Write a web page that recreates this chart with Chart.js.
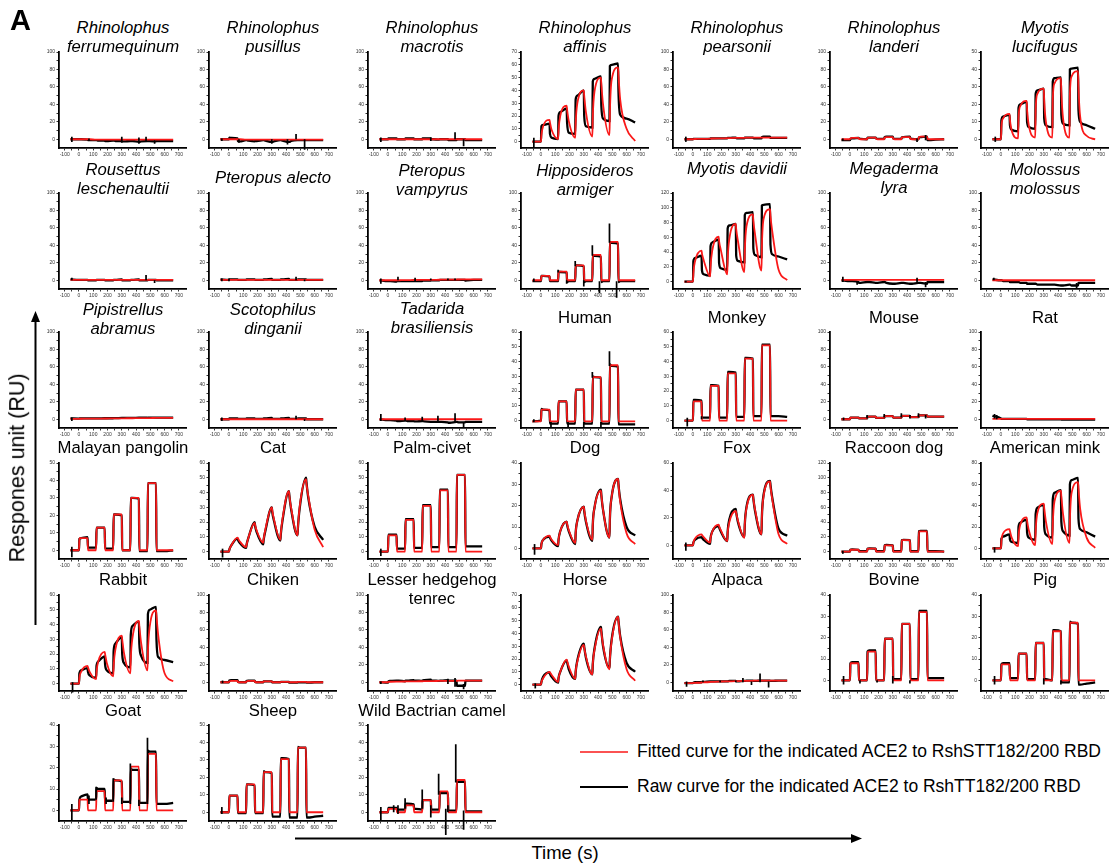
<!DOCTYPE html>
<html><head><meta charset="utf-8">
<script src="https://cdn.jsdelivr.net/npm/chart.js@4.4.1/dist/chart.umd.min.js"></script>
<style>
html,body{margin:0;padding:0;background:#fff;}
body{width:1111px;height:866px;overflow:hidden;position:relative;font-family:"Liberation Sans",Arial,sans-serif;color:#000;}
canvas.cv{position:absolute;}
.tx{position:absolute;white-space:nowrap;}
</style></head><body>
<svg id="ov" width="1111" height="866" style="position:absolute;left:0;top:0;pointer-events:none"></svg>
<script>
// ---------- shared time grid (s) ----------
const T = [-60, 0,3,15,60,63,75, 120,123,135,180,183,195, 240,243,255,300,303,315, 360,363,375,420,423,435, 480,483,495,540,543,555, 600,660];
const xTickValues = [-100,-50,0,50,100,150,200,250,300,350,400,450,500,550,600,650,700];

// ---------- panel titles ----------
const panelNames = [
 'Rhinolophus\nferrumequinum','Rhinolophus\npusillus','Rhinolophus\nmacrotis','Rhinolophus\naffinis','Rhinolophus\npearsonii','Rhinolophus\nlanderi','Myotis\nlucifugus',
 'Rousettus\nleschenaultii','Pteropus alecto','Pteropus\nvampyrus','Hipposideros\narmiger','Myotis davidii','Megaderma\nlyra','Molossus\nmolossus',
 'Pipistrellus\nabramus','Scotophilus\ndinganii','Tadarida\nbrasiliensis','Human','Monkey','Mouse','Rat',
 'Malayan pangolin','Cat','Palm-civet','Dog','Fox','Raccoon dog','American mink',
 'Rabbit','Chiken','Lesser hedgehog\ntenrec','Horse','Alpaca','Bovine','Pig',
 'Goat','Sheep','Wild Bactrian camel'];
const yMax  = [100,100,100,70,100,100,50, 100,100,100,100,120,100,100, 100,100,100,60,60,100,100, 50,60,60,40,60,120,80, 60,100,100,70,100,40,40, 40,50,50];
const yStep = [20,20,20,10,20,20,10, 20,20,20,20,20,20,20, 20,20,20,10,10,20,20, 10,10,10,10,20,20,20, 10,20,20,10,20,10,10, 10,10,10];
const yMin  = [-10,-10,-10,-5,-10,-10,-5, -10,-10,-10,-10,-10,-10,-10, -10,-10,-10,-5,-5,-10,-10, -5,-5,-5,-5,-10,-10,-10, -5,-10,-10,-5,-10,-5,-5, -5,-5,-5];

// ---------- series (fitted = red, raw = black), values at T ; spikes [t, y1, y2] ----------
const fit_Rfe = [0, 0,0,0,0,0,0, -0.5,-0.5,-0.5,-0.5,-0.5,-0.5, -0.5,-0.5,-0.5,-0.5,-0.5,-0.5, -0.5,-0.5,-0.5,-0.5,-0.5,-0.5, -0.5,-0.5,-0.5,-0.5,-0.5,-0.5, -0.5,-0.5];
const raw_Rfe = [0, 0,0,0,-0.5,-1,-1, -1,-1,-1.5,-1.5,-2,-2, -1.5,-1.5,-2,-2,-2.5,-2.5, -2,-2,-2,-3,-3,-2.5, -2,-2,-2,-2.5,-2,-2, -2,-2];
const spk_Rfe = [[-50,-3,3],[70,-2,1],[300,-4,3],[420,-5,2],[470,-2,3],[530,-5,-1]];

const fit_Rpu = [0, 0,0,0,0,0,0, -0.5,-0.5,-0.5,-0.5,-0.5,-0.5, -0.5,-0.5,-0.5,-0.5,-0.5,-0.5, -0.5,-0.5,-0.5,-0.5,-0.5,-0.5, -0.5,-0.5,-0.5,-0.5,-0.5,-0.5, -0.5,-0.5];
const raw_Rpu = [0, 0,2,1.5,1,-2,-2.5, -1,-1,-1.5,-2.5,-2,-2, -1,-1,-1.5,-3,-3,-2.5, -1,-1,-1.5,-3,-3,-2, -1,-1,-1,-1,-1,-1, -1,-1];
const spk_Rpu = [[-50,-2,1],[70,-4,0],[300,-5,0],[410,-6,0],[470,0,6],[530,-12,0]];

const fit_Rma = [0, 0,0,0,0,0,0, 0,0,0,0,0,0, 0,0,0,0,0,0, 0,0,0,0,0,0, 0,0,0,0,0,0, 0,0];
const raw_Rma = [0, 0,1,1,1,0,0, 0,1,1,1,0,0, 0,1,1,1,0,0, -0.5,0,0,0,-1,-1, -1,0,0,0,-1,-1, -1,-1];
const spk_Rma = [[-50,-3,2],[300,-2,2],[470,0,8],[530,-8,0]];

const fit_Raf = [0, 0,5,12,17,15,9, 2,9,20,28,25,16, 3,14,30,40,36,23, 4,19,39,50,45,29, 5,23,48,58,52,33, 10,0.5];
const raw_Raf = [0, 0,12,13,14,6,3, 2,20,23,26,15,7, 6,33,36,40,20,12, 11,47,49,51,28,18, 16,59,60,61,40,21, 18,15];
const spk_Raf = [[-50,-5,3]];

const fit_Rpe = [0, 0,0.2,0.3,0.5,0.5,0.5, 0.7,0.8,0.9,1,1,1, 1.2,1.3,1.4,1.5,1.5,1.5, 1.6,1.7,1.8,2,2,2, 2,2,2,2,2,2, 2,2];
const raw_Rpe = [0, 0,0.5,0.5,0.5,0.5,0.5, 0.5,1,1,1,1,1, 1,1.5,1.5,2,1.5,1, 1,2,2,2,1.5,1, 1,2.5,3,3,1.5,1.5, 1.5,1.5];
const spk_Rpe = [[-50,-3,3]];

const fit_Rla = [0, 0,1,1.5,1.5,0.5,0, 0,1.5,2,2,0.5,0, 0,2,2.5,2.5,0.5,0, 0,2,2.5,2.5,0.5,0, 0,2.5,3,3,0.5,0, 0,0];
const raw_Rla = [-1, -1,0.5,1,1.5,1,0.5, 0,2,2,2,1,0.5, 0.5,2.5,3,3,1,0.5, 0.5,2,2.5,3,1,0.5, 0,2,2.5,3,-1,-1, -0.5,0];
const spk_Rla = [[-50,-2,1],[470,-3,1],[530,-1,5]];

const fit_Mlu = [0, 0,7,12,14.5,11,5, 0.5,12,19,22,17,8, 1,17,26,29,22,10, 1,23,32,35,27,12, 1,26,36,39,30,13, 2,0];
const raw_Mlu = [0, 0,11,13,14,8,5.5, 4.5,18,20,21.5,10,7, 6,26,28,29,12,8, 7,33,35,35.5,14,9, 8,40,40.5,41,17,10, 8,6];
const spk_Mlu = [[-40,-1.5,1.5]];

const fit_Rle = [0.5, 0.5,0.5,0.5,0.5,0.5,0.5, 0.5,0.5,0.5,0.5,0.5,0.5, 0.5,0.5,0.5,0.5,0.5,0.5, 0.5,0.5,0.5,0.5,0.5,0.5, 0.5,0.5,0.5,0.5,0.5,0.5, 0.5,0.5];
const raw_Rle = [1, 0.5,0.5,0.5,0.5,0,0, 0,0.5,0.5,0.5,0,0, 0,0.5,0.5,1,0,0, 0,0.5,0.5,1,0,0, 0,0.5,0.5,0.5,0,0, 0,0];
const spk_Rle = [[-50,0,3],[470,0,6],[530,-3,0]];

const fit_Pal = [0.5, 0.5,0.5,0.5,0.5,0.5,0.5, 0.5,0.5,0.5,0.5,0.5,0.5, 0.5,0.5,0.5,0.5,0.5,0.5, 0.5,0.5,0.5,0.5,0.5,0.5, 0.5,0.5,0.5,0.5,0.5,0.5, 0.5,0.5];
const raw_Pal = [1, 0.5,1,1,1,0.5,0.5, 0.5,1,1,1,0.5,0.5, 0.5,1,1,1.5,0.5,0.5, 0.5,1,1,1.5,0.5,0.5, 0.5,1,1,1,0.5,0.5, 0.5,0.5];
const spk_Pal = [[-50,-1,2],[0,-1,2],[470,0,4],[530,-1,1]];

const fit_Pva = [0, 0,0,0,0,0,0, 0.2,0.2,0.2,0.3,0.3,0.3, 0.4,0.4,0.5,0.5,0.5,0.5, 0.6,0.6,0.7,0.7,0.8,0.8, 0.8,0.9,0.9,1,1,1, 1,1];
const raw_Pva = [0, -1,-1,-1,-1.5,-1,-1, -1,-1,-1,-1,-1,-1, -1,-0.5,-0.5,-0.5,0,0, 0,0.5,0.5,0.5,0.5,0.5, 0.5,0.5,0.5,0.5,-0.5,0, 0.5,0.5];
const spk_Pva = [[-50,-4,2],[70,0,4],[190,-1,3],[300,0,2],[420,0,2],[470,0,2]];

const fit_Har = [0, 0,5,5,5,0,0, 0,10,10,10,0,0, 0,17,17,17,0,0, 0,29,29,29,0,0, 0,44,44,44,0,0, 0,0];
const raw_Har = [-1, -1,5,5,4.5,-1,-1, -1,10,9.5,9,-2,-1, -1,17,17,16,-2,-1, -1,29,28,27,-2,-1, -1,44,43,42,-2,-1, -1,-1];
const spk_Har = [[-50,-2,2],[120,9,12],[180,-4,0],[240,16,22],[300,-7,0],[360,28,40],[410,-15,-1],[480,43,65],[530,-20,-1]];

const fit_Mda = [0, 0,12,28,42,38,29, 7,20,42,61,55,43, 10,30,58,78,71,55, 13,40,75,91,83,64, 15,48,85,98,89,69, 16,2];
const raw_Mda = [0, 0,28,32,35,15,10, 8,48,53,57,25,18, 16,72,76,78,35,28, 26,90,93,94,45,36, 33,103,104,105,50,37, 34,30];
const spk_Mda = [[-50,-1,1]];

const fit_Mly = [0.5, 0.5,0.5,0.5,0.5,0.5,0.5, 0.5,0.5,0.5,0.5,0.5,0.5, 0.5,0.5,0.5,0.5,0.5,0.5, 0.5,0.5,0.5,0.5,0.5,0.5, 0.5,0.5,0.5,0.5,0.5,0.5, 0.5,0.5];
const raw_Mly = [0, -1,-1,-1,-2,-3,-3, -2,-2,-2,-3,-3,-3, -2,-2,-3,-4,-4,-4, -3,-3,-3,-4,-4,-4, -3,-3,-3,-4,-2,-2, -2,-2];
const spk_Mly = [[-50,-2,4],[50,-5,-1],[470,-2,3],[530,-8,-2]];

const fit_Mmo = [0, 0,0,0,0,0,0, 0,0,0,0,0,0, 0,0,0,0,0,0, 0,0,0,0,0,0, 0,0,0,0,0,0, 0,0];
const raw_Mmo = [1, 0,0,-1,-1,-2,-2, -2,-2,-3,-3,-4,-4, -4,-4,-5,-5,-5,-5, -5,-5,-5,-6,-6,-6, -5,-5,-6,-6,-3,-3, -3,-3];
const spk_Mmo = [[-50,0,3],[530,-9,-3]];

const fit_Pab = [0.5, 0.5,0.6,0.6,0.7,0.7,0.7, 0.8,0.8,0.8,0.9,0.9,0.9, 1,1,1,1.1,1.1,1.1, 1.2,1.2,1.2,1.3,1.3,1.3, 1.4,1.4,1.4,1.5,1.5,1.5, 1.5,1.5];
const raw_Pab = [1, 0.8,1,1,1,1,1, 1,1,1,1.2,1.2,1.2, 1.2,1.3,1.3,1.5,1.5,1.5, 1.5,1.6,1.6,1.8,1.8,1.8, 1.8,2,2,2,2,2, 2,2];
const spk_Pab = [[-50,-2,2]];

const fit_Sdi = [0, 0,0,0,0,0,0, 0,0,0,0,0,0, 0,0,0,0,0,0, 0,0,0,0,0,0, 0,0,0,0,0,0, 0,0];
const raw_Sdi = [0, 0,1,1,1,0.5,0.5, 0.5,1,1,1,0.5,0.5, 0.5,1,1,1.5,0.5,0.5, 0.5,1,1,1.5,0.5,0.5, 0.5,1,1,1,0,0, 0,0];
const spk_Sdi = [[-50,-2,2],[470,0,4],[530,-2,0]];

const fit_Tbr = [0, 0,0,0,0,0,0, 0,0,0,0,0,0, 0,0,0,0,0,0, 0,0,0,0,0,0, 0,0,0,0,0,0, 0,0];
const raw_Tbr = [0, -1,-1,-1,-1.5,-2,-2, -1.5,-1.5,-2,-2,-2.5,-2.5, -2,-2,-2.5,-3,-3,-3, -3,-3,-3,-3.5,-4,-4, -3,-3,-3.5,-3.5,-3,-3, -3,-3];
const spk_Tbr = [[-50,-2,6],[120,-2,2],[240,-2,3],[350,-3,4],[470,-3,7],[530,-10,-3]];

const fit_Hum = [-0.5, -0.5,7.5,7.5,7.5,-0.5,-0.5, -0.5,13,13,13,-0.5,-0.5, -0.5,21,21,21,-0.5,-0.5, -0.5,29.5,29.5,29.5,-0.5,-0.5, -0.5,37.5,37.5,37.5,-0.5,-0.5, -0.5,-0.5];
const raw_Hum = [-0.5, 0,8,7.5,7,-2,-2, -2,13,13,13,-2,-2, -2,21,21,21,-2,-2, -2,30,29.5,29,-2,-2, -2,38,37,36.5,-2.5,-2.5, -2.5,-2.5];
const spk_Hum = [[-50,-1,1],[70,-5,-1],[190,-5,-1],[300,-5,-1],[360,29,33],[420,-5,-1],[480,37,47]];

const fit_Mon = [0, 0,13,13,13,0,0, 0,23.5,23.5,23.5,0,0, 0,32,32,32,0,0, 0,42,42,42,0,0, 0,51,51,51,0,0, 0,0];
const raw_Mon = [0, 0,14,14,13.5,2,2, 2,24,24,23.5,2,2, 2,33,33,32.5,2.5,2.5, 2.5,42.5,42.5,42,3,3, 3,51.5,51.5,51.5,3,3, 3,2.5];
const spk_Mon = [[-40,-4,2],[60,1,3]];

const fit_Mou = [0, 0,2,2,2,1,1, 1,3,3,3,1.5,1.5, 1.5,3.5,3.5,3.5,2,2, 2,4,4,4,2.5,2.5, 2.5,4.5,4.5,4.5,3,3, 3,3];
const raw_Mou = [0, 0,2,2,2,1,1, 1,3,3,3,1.5,1.5, 1.5,3.5,3.5,3.5,2,2, 2,4,4,4,2.5,2.5, 2.5,4.5,4.5,4.5,3,3, 3,3];
const spk_Mou = [[-45,-1,2],[120,1,5],[240,2,6],[360,2,7],[420,1,5],[480,2,7],[530,1,5]];

const fit_Rat = [0.5, 0.5,0.5,0.5,0.5,0.5,0.5, 0.5,0.5,0.5,0.5,0.5,0.5, 0.5,0.5,0.5,0.5,0.5,0.5, 0.5,0.5,0.5,0.5,0.5,0.5, 0.5,0.5,0.5,0.5,0.5,0.5, 0.5,0.5];
const raw_Rat = [4, 1,0.5,0.5,0.5,0.5,0.5, 0.5,0.5,0.5,0.5,0,0, 0,0,0,0,0,0, 0,0,0,0,-0.5,-0.5, -0.5,-0.5,-0.5,-0.5,-0.5,-0.5, -0.5,-0.5];
const spk_Rat = [[-45,1,6],[-30,0,5]];

const fit_Pan = [0, 0,7,7,7,0,0, 0,13,13,13,0,0, 0,20.5,20.5,20.5,0,0, 0,30,30,30,0,0, 0,38.5,38.5,38.5,0,0, 0,0];
const raw_Pan = [0, 0,6.5,7,7.5,1.5,1.5, 1.5,13,13,13,1,1, 1,20.5,20.5,20,0,0, 0,30,30,29.5,-0.5,-0.5, -0.5,38.5,38.5,38.5,-0.5,-0.5, -0.5,0];
const spk_Pan = [[-50,-4,2]];

const fit_Cat = [0, 0,1.5,4,9.5,9,7, 3,4.5,9,19.5,18,14, 6,8.5,15,30,28,22, 8,12,22,41,38,30, 11,16,30,49,46,38, 15,3];
const raw_Cat = [0, 0,1.5,4,9,8,6, 2.5,4.5,9,20,17.5,13, 5,8,14,30,27,21, 7.5,11.5,21,41,38,29, 11,16,29,50,47,37, 17,8];
const spk_Cat = [[-45,-4,2]];

const fit_Civ = [0, 0,11,11,11,0,0, 0,21.5,21.5,21.5,0,0, 0,31,31,31,0,0, 0,41.5,41.5,41.5,0,0, 0,52,52,52,0,0, 0,0];
const raw_Civ = [0, 0,11.5,11.5,11.5,2,2, 2,22,22,22,2.5,2.5, 2.5,31.5,31.5,31.5,3,3, 3,42,42,42,3,3, 3,52,52,52,3.5,3.5, 3.5,3.5];
const spk_Civ = [[-50,-3,2]];

const fit_Dog = [0, 0,2,4,6,5.5,4, 1.5,4,8,12.5,11.5,8.5, 2.5,7,13,19.5,18,13, 4,11,19,27,25,18, 5,14,24,32.5,30,22, 7,2];
const raw_Dog = [0, 0,2,4,5.5,5,3.5, 1,4,8,12.5,11,8, 2,7,13,19.5,17.5,12.5, 3.5,11,19,27.5,25,18, 5,14,24,32.5,30,23, 10,6];
const spk_Dog = [[-45,-3,2]];

const fit_Fox = [0, 0,2,5,8,7.5,6, 2,5,10,15,14,11, 3,9,17,25,23.5,18, 5.5,15,27,37,34,26, 8,21,36,46.5,43,34, 8,1];
const raw_Fox = [0, 0,2,4,6,5.5,4, 1,5,10,14,13,10, 3,10,19,26.5,24,17, 6,15,28,37,34,25, 8,21,37,47,44,35, 12,7];
const spk_Fox = [[-50,-4,2]];

const fit_Rac = [0, 0,2.5,2.5,2.5,0,0, 0,4,4,4,0,0, 0,8.5,8.5,8.5,0,0, 0,15.5,15.5,15.5,0,0, 0,27.5,27.5,27.5,0,0, 0,0];
const raw_Rac = [0, 0,2.5,3,2.5,0.5,0.5, 0.5,4,4.5,4,0.5,0.5, 0.5,8.5,9,8.5,0.5,0.5, 0.5,15.5,16,15.5,0.5,0.5, 0.5,27.5,28,28,0.5,0.5, 0.5,0];
const spk_Rac = [[-50,-3,1]];

const fit_Min = [0, 0,7,14,18,16,10, 2,11,22,29,26,17, 3,16,33,42,38,25, 4,22,44,54,49,32, 5,26,52,62,56,37, 10,0.5];
const raw_Min = [0, 0,9,11,13,8,6, 5,20,24,27,15,10, 8,32,38,41,20,13, 10,46,52,54.5,25,16, 12,60,64,66,28,18, 15,11];
const spk_Min = [[-45,-4,1]];

const fit_Rab = [0, 0,4,8,12,11,8, 3,8,15,21.5,20,14, 5,12,23,32.5,30,21, 7,17,31,42.5,39,28, 9,21,38,49.5,46,33, 7,1.5];
const raw_Rab = [0, 0,7,9,10.5,8,5.5, 4,12,15,18.5,13,9, 7,22,27,31.5,20,14, 11,33,39,42,27,19, 14,47,50,52,30,18, 16,14.5];
const spk_Rab = [[-45,-6,1]];

const fit_Chi = [0, 0,1,1.5,1.5,0,0, 0,1,1.5,1.5,0,0, 0,1,1,1,0,0, 0,0.5,0.5,0.5,0,0, 0,0.5,0.5,0.5,0,0, 0,0];
const raw_Chi = [0, 0,2,2.5,2.5,0.5,0, 0,1.5,2,2,0.5,0, 0,1,1,1,0,0, 0,0.5,0.5,0.5,-0.5,-0.5, -0.5,0,0,0,-0.5,-0.5, 0,0];
const spk_Chi = [[-45,-1,2]];

const fit_Ten = [0, 0,0.5,0.6,0.7,0.8,0.8, 0.9,1,1,1,1.1,1.1, 1.2,1.2,1.3,1.3,1.4,1.4, 1.5,1.5,1.5,1.6,1.6,1.6, 1.7,1.7,1.8,1.8,1.8,1.8, 1.9,2];
const raw_Ten = [0, -0.5,1,1.5,2,2,2, 1,2,2,2.5,2,2, 1.5,2,2.5,3,2,2, 1.5,2,2,2.5,2,2, 2,-4,-4,-4,2,2, 2,2];
const spk_Ten = [[-50,-2,1],[420,-2,4],[470,-5,5],[530,-8,-2]];

const fit_Hor = [0, 0,2,5,10,9.5,7.5, 2,5,10,19.5,18.5,14, 4.5,10,18,31,29,22, 8,16,27,44,41,31, 12,20,34,53,49.5,37, 12,3];
const raw_Hor = [0, 0,2,6,9.5,8.5,6, 1.5,5,10,19,17.5,12, 4.5,10,19,32,29.5,21, 8,16,28,45,42,30, 13,20,35,53,50,38, 17,10];
const spk_Hor = [[-40,-3,1]];

const fit_Alp = [-1, -1,-0.8,-0.6,-0.3,0,0, 0.3,0.4,0.5,0.7,0.8,0.9, 1,1,1.1,1.2,1.3,1.4, 1.5,1.5,1.6,1.7,1.8,1.8, 1.9,1.9,2,2,2,2, 2,2];
const raw_Alp = [-1, -1,-0.5,0,0,0.5,0.5, 1,1,1,1,1,1, 1,1,1.5,1.5,1,1, 1.5,1.5,2,2,1.5,1.5, 2,2,2,2,1.5,1.5, 2,2];
const spk_Alp = [[-45,-5,1],[70,0,2],[190,0,2],[300,0,2],[350,0,5],[410,-3,1],[470,0,10],[530,-6,1]];

const fit_Bov = [0, 0,8,8,8,0,0, 0,13.5,13.5,13.5,0,0, 0,19.5,19.5,19.5,0,0, 0,26.5,26.5,26.5,0,0, 0,32,32,32,0,0, 0,0];
const raw_Bov = [0, 0,8,8.5,8.5,0,0, 0,13.5,14,14,0,0, 0,19.5,19.5,19.5,0.5,0.5, 0.5,26.5,26.5,26.5,0.5,0.5, 0.5,32.5,32.5,32.5,1,1, 1,1];
const spk_Bov = [[-45,-2,2],[70,-1.5,0],[190,-1,0],[300,-1.5,2],[420,-1.5,0]];

const fit_Pig = [0, 0,7.5,7.5,7.5,0,0, 0,12.5,12.5,12.5,0,0, 0,17.5,17.5,17.5,0,0, 0,23,23,23,0,0, 0,27,27,27,0,0, 0,0];
const raw_Pig = [0, 0,7.5,8,8,1,1, 1,12.5,12.5,12.5,0.5,0.5, 0.5,17.5,17.5,17.5,0.5,0.5, 0,23.5,23.5,23,-1,-1, -1,27.5,27,26.5,-2,-2, -1.5,-1];
const spk_Pig = [[-45,-2,2],[300,-2,1],[420,-2,0]];

const fit_Goa = [0, 0,5,5,5,0,0, 0,9,9,9,0,0, 0,14,14,14,0,0, 0,20.5,20.5,20.5,0,0, 0,26.5,26.5,26.5,0,0, 0,0];
const raw_Goa = [0, 0,5,6.5,7.5,5,5, 5,10.5,10,10,4.5,4.5, 4.5,14.5,14,13.5,4,4, 4,19.5,19,19,3.5,3.5, 3.5,28,27.5,27.5,3,3, 3,3.5];
const spk_Goa = [[-50,-5,3],[70,3,7],[120,5,11],[190,3,6],[240,4,15],[300,3,6],[360,3,22],[420,2,5],[480,3,34]];

const fit_She = [0, 0,9.5,9.5,9.5,0,0, 0,16,16,16,0,0, 0,23,23,23,0,0, 0,30.5,30.5,30.5,0,0, 0,37,37,37,0,0, 0,0];
const raw_She = [0, 0,9.5,9.5,9.5,-0.5,-0.5, -0.5,16,16,15.5,-0.5,-0.5, -0.5,23.5,23,22.5,-2.5,-2.5, -2.5,31,31,30.5,-3,-3, -3,37.5,37,37,-3,-3, -2.5,-2];
const spk_She = [[-50,-1,3]];

const fit_Cam = [0, 0,2,2,2,0,0, 0,4,4,4,0,0, 0,7,7,7,0,0, 0,12,12,12,0,0, 0,18.5,18.5,18.5,0,0, 0,0];
const raw_Cam = [0, 0,2.5,2.5,2.5,1.5,1.5, 1.5,5,5,4.5,2,2, 1.5,7,7,7,1.5,1.5, 1.5,11.5,11,11,1,1, 1,18,17.5,17.5,0.5,0.5, 0.5,0.5];
const spk_Cam = [[-50,-5,3],[40,0,4],[70,-1,4],[120,2,8],[240,2,13],[300,-3,4],[355,10,22],[405,-25,2],[420,0,4],[475,17,39],[530,-10,1]];

const fitSeries = [fit_Rfe,fit_Rpu,fit_Rma,fit_Raf,fit_Rpe,fit_Rla,fit_Mlu, fit_Rle,fit_Pal,fit_Pva,fit_Har,fit_Mda,fit_Mly,fit_Mmo, fit_Pab,fit_Sdi,fit_Tbr,fit_Hum,fit_Mon,fit_Mou,fit_Rat, fit_Pan,fit_Cat,fit_Civ,fit_Dog,fit_Fox,fit_Rac,fit_Min, fit_Rab,fit_Chi,fit_Ten,fit_Hor,fit_Alp,fit_Bov,fit_Pig, fit_Goa,fit_She,fit_Cam];
const rawSeries = [raw_Rfe,raw_Rpu,raw_Rma,raw_Raf,raw_Rpe,raw_Rla,raw_Mlu, raw_Rle,raw_Pal,raw_Pva,raw_Har,raw_Mda,raw_Mly,raw_Mmo, raw_Pab,raw_Sdi,raw_Tbr,raw_Hum,raw_Mon,raw_Mou,raw_Rat, raw_Pan,raw_Cat,raw_Civ,raw_Dog,raw_Fox,raw_Rac,raw_Min, raw_Rab,raw_Chi,raw_Ten,raw_Hor,raw_Alp,raw_Bov,raw_Pig, raw_Goa,raw_She,raw_Cam];
const spikeSeries = [spk_Rfe,spk_Rpu,spk_Rma,spk_Raf,spk_Rpe,spk_Rla,spk_Mlu, spk_Rle,spk_Pal,spk_Pva,spk_Har,spk_Mda,spk_Mly,spk_Mmo, spk_Pab,spk_Sdi,spk_Tbr,spk_Hum,spk_Mon,spk_Mou,spk_Rat, spk_Pan,spk_Cat,spk_Civ,spk_Dog,spk_Fox,spk_Rac,spk_Min, spk_Rab,spk_Chi,spk_Ten,spk_Hor,spk_Alp,spk_Bov,spk_Pig, spk_Goa,spk_She,spk_Cam];

const legendLabels = ['Fitted curve for the indicated ACE2 to RshSTT182/200 RBD','Raw curve for the indicated ACE2 to RshTT182/200 RBD'];

// ---------- layout ----------
const colX = [59,209,368,521,673,830,981];
const rowTop = [52,193,332,463,595,725];
const titleBase = [34,34,34,34,34,34,34, 176,184,177,177,175,175,176, 316,316,315,324,324,324,324, 454,454,454,454,454,454,454, 586,586,586,586,586,586,586, 717,717,717];
const PW=127, PH=96, YW=22, XH=14, PT=6, PR=6;
const RED='rgb(250,25,25)';
const FONT='"Liberation Sans", Arial, sans-serif';

fitSeries.forEach((a,i)=>{ if(a.length!==T.length) throw new Error('fit length '+i+' '+a.length); });
rawSeries.forEach((a,i)=>{ if(a.length!==T.length) throw new Error('raw length '+i+' '+a.length); });

function addText(txt, x, base, size, opts){
  opts = opts||{};
  const d=document.createElement('div');
  d.className='tx'; d.textContent=txt;
  d.style.fontSize=size+'px'; d.style.lineHeight=(1.2*size)+'px';
  if(opts.italic) d.style.fontStyle='italic';
  if(opts.bold) d.style.fontWeight='bold';
  const top = base - 0.9465*size;
  if(opts.center){ d.style.width='300px'; d.style.textAlign='center'; d.style.left=(x-150)+'px'; }
  else d.style.left=x+'px';
  d.style.top=top+'px';
  document.body.appendChild(d);
  return d;
}
const toPts = arr => T.map((t,i)=>({x:t,y:arr[i]}));
function spikePts(sp){ const o=[]; sp.forEach(s=>{ o.push({x:s[0],y:s[1]},{x:s[0],y:s[2]},{x:s[0],y:null}); }); return o; }

function axisCommon(){
  return {
    grid:{drawOnChartArea:false, drawTicks:true, tickLength:2.5, tickWidth:0.8, tickColor:'#000'},
    border:{display:true, color:'#000', width:1.8},
  };
}

panelNames.forEach((name,i)=>{
  const r=Math.floor(i/7), c=i%7;
  const ax=colX[c], top=rowTop[r];
  const cv=document.createElement('canvas');
  cv.className='cv';
  const W=YW+PW+PR, H=PT+PH+XH;
  cv.width=W; cv.height=H; cv.style.width=W+'px'; cv.style.height=H+'px';
  cv.style.left=(ax-YW)+'px'; cv.style.top=(top-PT)+'px';
  document.body.appendChild(cv);
  const step=yStep[i], ymax=yMax[i];
  const yt=[]; for(let v=0; v<=ymax+1e-9; v+=step/2) yt.push(v);
  new Chart(cv,{
    type:'line',
    data:{datasets:[
      {label:'spikes', data:spikePts(spikeSeries[i]), borderColor:'#000', borderWidth:1.7, tension:0, spanGaps:false, pointRadius:0, clip:false},
      {label:'fit', data:toPts(fitSeries[i]), borderColor:RED, borderWidth:1.8, cubicInterpolationMode:'monotone', pointRadius:0},
      {label:'raw', data:toPts(rawSeries[i]), borderColor:'#000', borderWidth:2.3, cubicInterpolationMode:'monotone', pointRadius:0}
    ]},
    options:{
      responsive:false, animation:false, events:[], devicePixelRatio:1,
      layout:{padding:{left:0,top:PT,right:PR,bottom:0}, autoPadding:false},
      plugins:{legend:{display:false}, tooltip:{enabled:false}, title:{display:false}},
      scales:{
        x:Object.assign(axisCommon(),{type:'linear', min:-140, max:750,
          afterFit:s=>{s.height=XH;},
          afterBuildTicks:s=>{s.ticks=xTickValues.map(v=>({value:v}));},
          ticks:{autoSkip:false, maxRotation:0, padding:1, color:'#333', font:{size:5, family:FONT},
                 callback:v=> (v%100===0? String(v):'')}}),
        y:Object.assign(axisCommon(),{type:'linear', min:yMin[i], max:ymax,
          afterFit:s=>{s.width=YW;},
          afterBuildTicks:s=>{s.ticks=yt.map(v=>({value:v}));},
          ticks:{autoSkip:false, padding:1.5, color:'#333', font:{size:5, family:FONT},
                 callback:v=> (Math.abs(v%step)<1e-6? String(v):'')}})
      }
    }
  });
  // title
  const lines=name.split('\n');
  lines.forEach((ln,j)=>addText(ln, ax+64, titleBase[i]+19*j, 16.7, {center:true, italic:i<17}));
});

// panel letter
addText('A', 10, 30, 29, {bold:true});
// legend
addText(legendLabels[0], 637, 758, 17.5);
addText(legendLabels[1], 637, 793, 17.5);
// axis titles
addText('Time (s)', 565, 860, 18.5, {center:true});
const YLS=21.5;
const yl=addText('Respones unit (RU)', 18, 468+0.35*YLS, YLS, {center:true});
yl.style.transformOrigin='150px '+(0.9465*YLS-0.35*YLS)+'px';
yl.style.transform='rotate(-90deg)';

// overlay: legend lines and arrows
const ov=document.getElementById('ov');
ov.innerHTML =
 '<line x1="580" y1="752" x2="628" y2="752" stroke="'+RED+'" stroke-width="1.7"/>'+
 '<line x1="580" y1="787" x2="628" y2="787" stroke="#000" stroke-width="2"/>'+
 '<line x1="35.5" y1="625" x2="35.5" y2="320" stroke="#000" stroke-width="2"/>'+
 '<polygon points="35.5,311 31,322 40,322" fill="#000"/>'+
 '<line x1="295" y1="838.5" x2="853" y2="838.5" stroke="#000" stroke-width="2"/>'+
 '<polygon points="862,838.5 851,834 851,843" fill="#000"/>';
</script>
</body></html>
